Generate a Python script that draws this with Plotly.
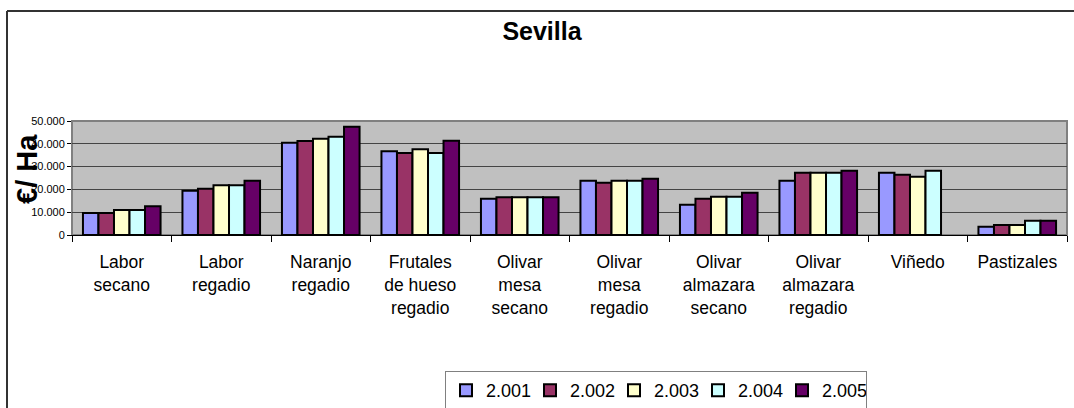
import plotly.graph_objects as go

categories = ["Labor<br>secano", "Labor<br>regadio", "Naranjo<br>regadio",
              "Frutales<br>de hueso<br>regadio", "Olivar<br>mesa<br>secano",
              "Olivar<br>mesa<br>regadio", "Olivar<br>almazara<br>secano",
              "Olivar<br>almazara<br>regadio", "Viñedo", "Pastizales"]
series_names = ["2.001", "2.002", "2.003", "2.004", "2.005"]
v2001 = [9700, 19400, 40500, 36700, 15900, 23800, 13300, 23800, 27300, 3600]
v2002 = [9700, 20300, 41200, 36000, 16600, 22900, 15900, 27300, 26400, 4400]
v2003 = [11000, 21800, 42200, 37600, 16600, 23800, 16800, 27300, 25500, 4400]
v2004 = [11000, 21800, 43100, 36000, 16600, 23800, 16800, 27300, 28200, 6300]
v2005 = [12600, 23800, 47500, 41300, 16600, 24700, 18500, 28200, None, 6300]
series_values = [v2001, v2002, v2003, v2004, v2005]
colors = ["#9999FF", "#993366", "#FFFFCC", "#CCFFFF", "#660066"]
y_ticks = [0, 10000, 20000, 30000, 40000, 50000]

FONT = "Arial, Liberation Sans, sans-serif"

fig = go.Figure()
for name, vals, col in zip(series_names, series_values, colors):
    fig.add_trace(go.Bar(x=categories, y=vals, name=name,
                         marker=dict(color=col, line=dict(color="black", width=2))))

W, H = 1074, 408
L, R, T, B = 72, 7, 121, 173
pw, ph = W - L - R, H - T - B

def px(x):
    return (x - L) / pw

def py(y):
    return (H - B - y) / ph

fig.update_layout(
    width=W, height=H,
    margin=dict(l=L, r=R, t=T, b=B, autoexpand=False),
    paper_bgcolor="white", plot_bgcolor="#C0C0C0",
    separators=",.",
    barmode="group", bargap=0.22, bargroupgap=0,
    font=dict(family=FONT, color="black"),
    title=dict(text="<b>Sevilla</b>", x=542 / W, xanchor="center",
               y=1 - 31.5 / H, yanchor="middle", yref="container",
               font=dict(size=25, family=FONT, color="black")),
    legend=dict(orientation="h", x=px(445), xanchor="left", y=py(371), yanchor="top",
                bordercolor="#808080", borderwidth=1, bgcolor="white",
                font=dict(size=18, family=FONT, color="black"),
                entrywidth=39, entrywidthmode="pixels", traceorder="normal"),
    showlegend=True,
)
fig.update_xaxes(tickson="boundaries", ticks="outside", ticklen=6, tickcolor="black",
                 showline=True, linecolor="black", linewidth=1, tickangle=0,
                 tickfont=dict(size=17.5, family=FONT, color="black"),
                 ticklabelstandoff=11, automargin=False, showgrid=False)
fig.update_yaxes(range=[0, 50000], tickvals=y_ticks, tickformat=",d",
                 ticks="outside", ticklen=4, tickcolor="black",
                 showline=True, linecolor="#808080", linewidth=1,
                 showgrid=True, gridcolor="#444444", gridwidth=1,
                 tickfont=dict(size=11, family=FONT, color="black"),
                 automargin=False, zeroline=False)

fig.add_annotation(text="<b>€/ Ha</b>", textangle=-90, xref="paper", yref="paper",
                   x=px(27), y=py(169), xanchor="center", yanchor="middle",
                   showarrow=False, font=dict(size=29, family=FONT, color="black"))

# plot-area frame
fig.add_shape(type="rect", xref="paper", yref="paper", x0=0, y0=0, x1=1, y1=1,
              line=dict(color="#808080", width=2), layer="below")
# chart outer border (left and top)
fig.add_shape(type="line", xref="paper", yref="paper", x0=px(7), y0=py(11), x1=px(1080), y1=py(11),
              line=dict(color="#333333", width=2))
fig.add_shape(type="line", xref="paper", yref="paper", x0=px(7), y0=py(11), x1=px(7), y1=py(420),
              line=dict(color="#333333", width=2))

fig.write_html("out.html", config={"displayModeBar": False},
               post_script="document.body.style.margin='0';")
